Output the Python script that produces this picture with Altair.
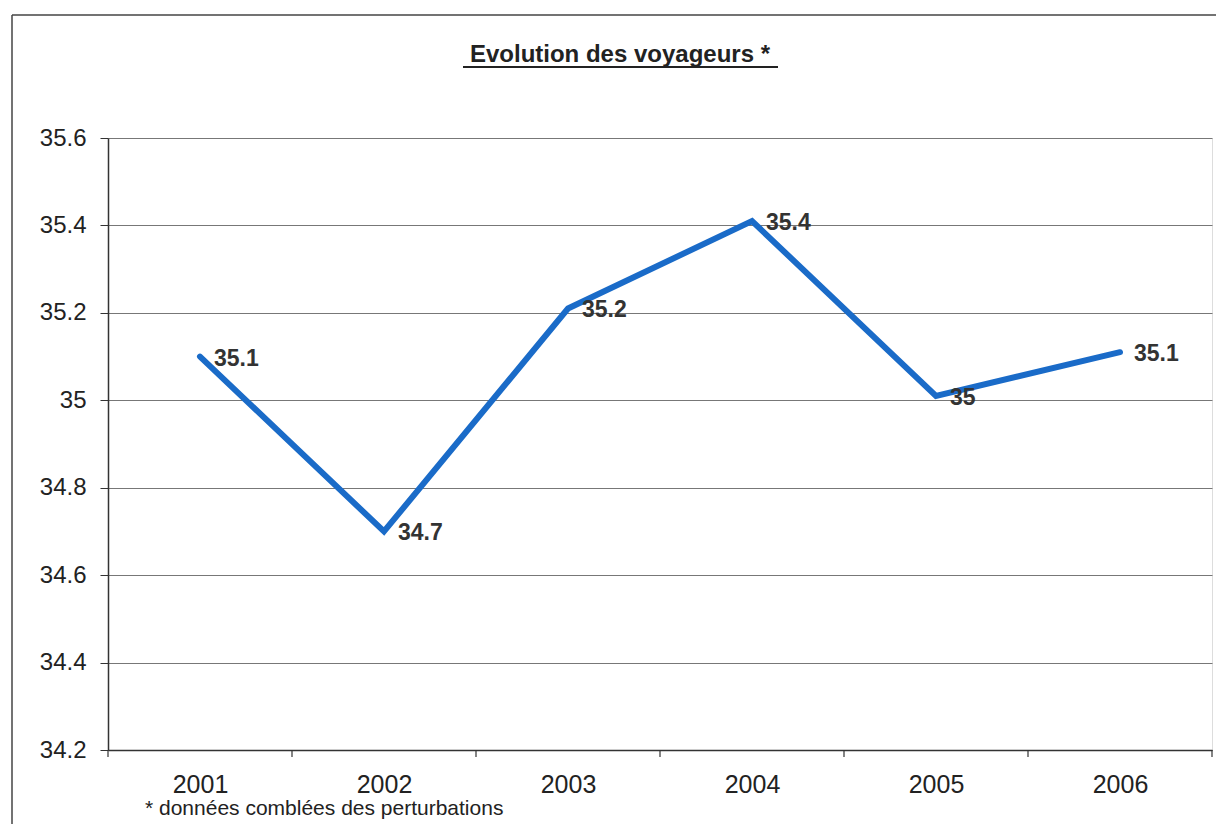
import altair as alt
import pandas as pd

years = ["2001", "2002", "2003", "2004", "2005", "2006"]
values = [35.1, 34.7, 35.21, 35.41, 35.01, 35.11]
labels = ["35.1", "34.7", "35.2", "35.4", "35", "35.1"]
y_ticks = [34.2, 34.4, 34.6, 34.8, 35.0, 35.2, 35.4, 35.6]
title_text = "Evolution des voyageurs *"
footnote = "* données comblées des perturbations"

W, H = 1104, 612
FONT = "Liberation Sans"

df = pd.DataFrame({"pos": [i + 0.5 for i in range(len(years))],
                   "year": years, "value": values, "label": labels})
bounds = pd.DataFrame({"b": list(range(len(years) + 1))})
one = pd.DataFrame({"k": [0]})

label_expr = "[" + ",".join("'%s'" % y for y in years) + "][floor(datum.value)]"

xs = alt.Scale(domain=[0, len(years)], nice=False, zero=False)
ys = alt.Scale(domain=[y_ticks[0], y_ticks[-1]], nice=False, zero=False)

base = alt.Chart(df)

line = base.mark_line(color="#1a6bc8", strokeWidth=6, strokeCap="round", strokeJoin="miter").encode(
    x=alt.X("pos:Q", scale=xs,
            axis=alt.Axis(values=[i + 0.5 for i in range(len(years))], labelExpr=label_expr,
                          ticks=False, grid=False, title=None, labelFontSize=25,
                          labelPadding=22, labelFont=FONT, labelColor="#222",
                          domainColor="#333", domainWidth=1.5)),
    y=alt.Y("value:Q", scale=ys,
            axis=alt.Axis(values=y_ticks, format="~g", title=None, labelFontSize=24,
                          labelFont=FONT, labelColor="#222", labelPadding=14,
                          tickSize=8, tickColor="#333", domainColor="#333", domainWidth=1.5,
                          gridColor="#777", gridWidth=1)),
)

text = base.mark_text(align="left", baseline="middle", dx=14, dy=2, fontSize=23,
                      fontWeight="bold", font=FONT, color="#333").encode(
    x=alt.X("pos:Q", scale=xs), y=alt.Y("value:Q", scale=ys), text="label:N")

xticks = alt.Chart(bounds).mark_rule(color="#333", strokeWidth=1.2).encode(
    x=alt.X("b:Q", scale=xs), y=alt.value(H), y2=alt.value(H + 7))

frame_left = alt.Chart(one).mark_rule(color="#444", strokeWidth=1.5).encode(
    x=alt.value(-96), y=alt.value(-123), y2=alt.value(H + 80))
frame_top = alt.Chart(one).mark_rule(color="#444", strokeWidth=1.5).encode(
    x=alt.value(-96), x2=alt.value(1113), y=alt.value(-123))

title = alt.Chart(one).mark_text(fontSize=24, fontWeight="bold", font=FONT, color="#222",
                                 align="center", baseline="alphabetic").encode(
    x=alt.value(512), y=alt.value(-76), text=alt.value(title_text))
underline = alt.Chart(one).mark_rule(color="#222", strokeWidth=2).encode(
    x=alt.value(355), x2=alt.value(670), y=alt.value(-71))

foot = alt.Chart(one).mark_text(fontSize=21, font=FONT, color="#222",
                                align="left", baseline="middle").encode(
    x=alt.value(37), y=alt.value(H + 59), text=alt.value(footnote))

chart = alt.layer(line, xticks, text, frame_left, frame_top, title, underline, foot).properties(
    width=W, height=H,
    autosize=alt.AutoSizeParams(type="none"),
    padding={"left": 100, "top": 130, "right": 4, "bottom": 74},
).configure_view(stroke=None).configure(background="white")

chart.save("out.html", embed_options={"renderer": "svg", "actions": False})
